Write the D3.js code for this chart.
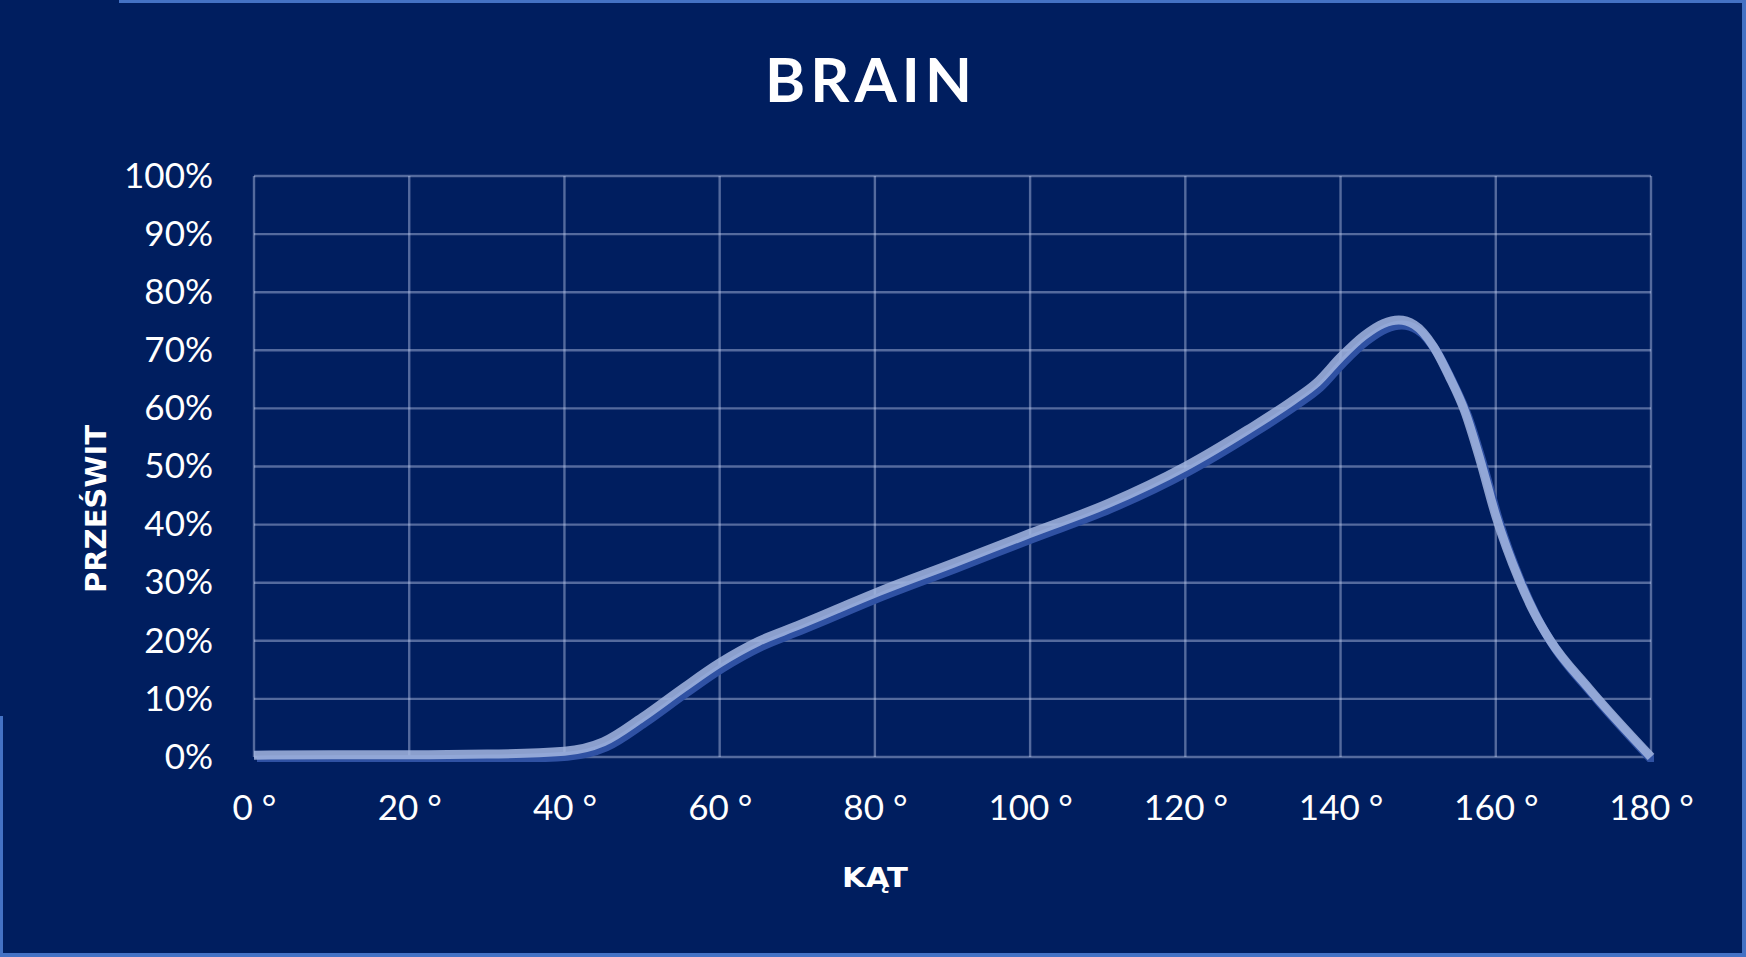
<!DOCTYPE html>
<html>
<head>
<meta charset="utf-8">
<script src="https://cdn.jsdelivr.net/npm/d3@7"></script>
<style>
  html, body { margin: 0; padding: 0; background: #001e5f; }
  svg { display: block; }
</style>
</head>
<body>
<svg id="chart1" width="1746" height="957"></svg>
<script>
// kąt (stopnie) i prześwit (%)
var angles = [0, 10, 20, 30, 40, 45, 50, 55, 60, 65, 70, 75, 80, 90, 100, 110, 120, 128, 134, 137, 140, 143, 145.5, 147.5, 149.5, 152, 154, 156, 158, 160, 163, 165, 167, 172, 180];
var values = [0.3, 0.4, 0.4, 0.5, 1.0, 2.6, 6.8, 11.6, 16.2, 19.9, 22.6, 25.4, 28.2, 33.3, 38.5, 43.6, 50.0, 56.3, 61.5, 64.5, 68.8, 72.5, 74.6, 75.2, 74.4, 70.6, 65.5, 59.5, 51.0, 41.5, 30.5, 24.7, 20.1, 11.8, 0];
var xTicks = [0, 20, 40, 60, 80, 100, 120, 140, 160, 180];
var yTicks = [0, 10, 20, 30, 40, 50, 60, 70, 80, 90, 100];

var title = "BRAIN";
var xTitle = "KĄT";
var yTitle = "PRZEŚWIT";

var svg = d3.select("svg#chart1");
var W = 1746, H = 957;
// uwaga: "top" to zmienna okna, więc inne nazwy
var pLeft = 254, pRight = 1651, pTop = 176, pBottom = 757;

var x = d3.scaleLinear().domain([0, 180]).range([pLeft, pRight]);
var y = d3.scaleLinear().domain([0, 100]).range([pBottom, pTop]);

// tło
svg.append("rect").attr("width", W).attr("height", H).attr("fill", "#001e5f");

// ramka (tylko częściowo widoczna)
var border = "#4472c4";
svg.append("rect").attr("x", 119).attr("y", 0).attr("width", W - 119).attr("height", 3).attr("fill", border);
svg.append("rect").attr("x", W - 4).attr("y", 0).attr("width", 4).attr("height", H).attr("fill", border);
svg.append("rect").attr("x", 0).attr("y", H - 4).attr("width", W).attr("height", 4).attr("fill", border);
svg.append("rect").attr("x", 0).attr("y", 716).attr("width", 3).attr("height", H - 716).attr("fill", border);

// siatka
var grid = svg.append("g").attr("stroke", "#c8d4f4").attr("stroke-opacity", 0.42).attr("stroke-width", 2.4);
grid.selectAll("line.h").data(yTicks).enter().append("line")
  .attr("class", "h")
  .attr("x1", pLeft).attr("x2", pRight)
  .attr("y1", d => y(d)).attr("y2", d => y(d));
grid.selectAll("line.v").data(xTicks).enter().append("line")
  .attr("class", "v")
  .attr("y1", pTop).attr("y2", pBottom)
  .attr("x1", d => x(d)).attr("x2", d => x(d));

// osie - tylko etykiety
var yAxis = svg.append("g")
  .attr("transform", "translate(" + pLeft + ",0)")
  .call(d3.axisLeft(y).tickValues(yTicks).tickSize(0).tickPadding(41).tickFormat(d => d + "%"));
var xAxis = svg.append("g")
  .attr("transform", "translate(0," + pBottom + ")")
  .call(d3.axisBottom(x).tickValues(xTicks).tickSize(0).tickPadding(38).tickFormat(d => d + " °"));
[yAxis, xAxis].forEach(function(a) {
  a.select(".domain").remove();
  a.selectAll("text")
    .attr("fill", "#ffffff")
    .style("font-family", "Lato, 'Open Sans', sans-serif")
    .style("font-size", "35px");
});

var pts = angles.map((a, i) => ({a: a, v: values[i]}));
var line = d3.line()
  .x(d => x(d.a))
  .y(d => y(d.v))
  .curve(d3.curveMonotoneX);

// cień linii
svg.append("clipPath").attr("id", "plot")
  .append("rect").attr("x", pLeft).attr("y", pTop - 20).attr("width", pRight - pLeft).attr("height", pBottom - pTop + 20);
svg.append("path")
  .datum(pts)
  .attr("clip-path", "url(#plot)")
  .attr("transform", "translate(3,5)")
  .attr("fill", "none")
  .attr("stroke", "#2f51a3")
  .attr("stroke-width", 9)
  .attr("d", line);

// linia główna
svg.append("path")
  .datum(pts)
  .attr("fill", "none")
  .attr("stroke", "#a3b6e0")
  .attr("stroke-opacity", 0.85)
  .attr("stroke-width", 9)
  .attr("stroke-linejoin", "round")
  .attr("d", line);

// tytuły
svg.append("text")
  .attr("x", 871).attr("y", 102)
  .attr("text-anchor", "middle")
  .attr("fill", "#ffffff")
  .style("font-family", "Lato, sans-serif")
  .style("font-weight", "700")
  .style("font-size", "61px")
  .style("letter-spacing", "5px")
  .text(title);

svg.append("text")
  .attr("x", 875).attr("y", 887)
  .attr("text-anchor", "middle")
  .attr("fill", "#ffffff")
  .style("font-family", "'DejaVu Sans', sans-serif")
  .style("font-weight", "700")
  .style("font-size", "27px")
  .attr("textLength", 66)
  .attr("lengthAdjust", "spacingAndGlyphs")
  .text(xTitle);

svg.append("text")
  .attr("transform", "translate(106,509) rotate(-90)")
  .attr("text-anchor", "middle")
  .attr("fill", "#ffffff")
  .style("font-family", "'DejaVu Sans', sans-serif")
  .style("font-weight", "700")
  .style("font-size", "29px")
  .attr("textLength", 168)
  .attr("lengthAdjust", "spacingAndGlyphs")
  .text(yTitle);
</script>
</body>
</html>
